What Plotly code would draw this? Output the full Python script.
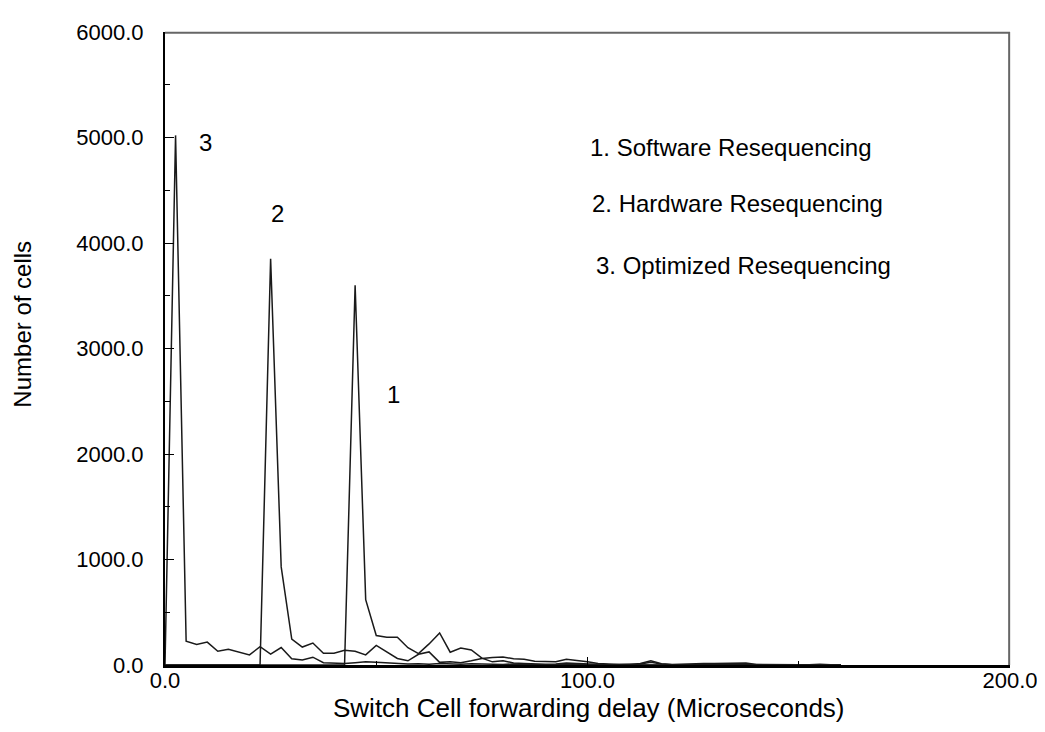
import plotly.graph_objects as go

# x grid (microseconds)
delay_us = [0, 2.5, 5, 7.5, 10, 12.5, 15, 17.5, 20, 22.5,
            25, 27.5, 30, 32.5, 35, 37.5, 40, 42.5, 45, 47.5,
            50, 52.5, 55, 57.5, 60, 62.5, 65, 67.5, 70, 72.5,
            75, 77.5, 80, 82.5, 85, 87.5, 90, 92.5, 95, 97.5,
            100, 102.5, 105, 107.5, 110, 112.5, 115, 117.5, 120, 122.5,
            125, 127.5, 130, 132.5, 135, 137.5, 140, 142.5, 145, 147.5,
            150, 152.5, 155, 157.5, 160]

software = [0, 0, 0, 0, 0, 0, 0, 0, 0, 0,
            0, 0, 0, 0, 0, 0, 0, 0, 3600, 620,
            279, 264, 264, 164, 108, 200, 304, 121, 161, 143,
            65, 30, 40, 20, 15, 10, 8, 10, 20, 15,
            10, 5, 3, 5, 8, 10, 25, 10, 3, 2,
            2, 3, 2, 2, 3, 5, 2, 1, 1, 1,
            1, 1, 2, 1, 0]

hardware = [0, 0, 0, 0, 0, 0, 0, 0, 0, 0,
            3850, 930, 245, 170, 208, 111, 111, 140, 130, 96,
            186, 124, 62, 40, 102, 124, 25, 30, 22, 40,
            62, 70, 75, 60, 55, 35, 35, 30, 55, 45,
            31, 15, 8, 5, 5, 15, 40, 12, 5, 10,
            15, 15, 15, 15, 15, 20, 5, 3, 2, 2,
            2, 3, 8, 2, 0]

optimized = [0, 5020, 226, 195, 217, 130, 149, 124, 96, 173,
             104, 166, 60, 47, 74, 22, 20, 15, 22, 30,
             26, 20, 15, 10, 12, 8, 15, 10, 8, 12,
             8, 5, 5, 10, 5, 3, 3, 5, 2, 3,
             2, 2, 1, 1, 2, 3, 2, 1, 1, 1,
             1, 1, 1, 1, 1, 2, 1, 0, 0, 0,
             0, 0, 1, 0, 0]

peak_labels = ["1", "2", "3"]
peak_label_x = [54, 26.7, 9.5]
peak_label_y = [2560, 4280, 4950]

legend_texts = ["1. Software Resequencing", "2. Hardware Resequencing", "3. Optimized Resequencing"]
legend_x = [100.0, 100.5, 101.6]
legend_y = [4910, 4370, 3790]

x_title = "Switch Cell forwarding delay (Microseconds)"
y_title = "Number of cells"

FONT = "Liberation Sans, Arial, Helvetica, sans-serif"
FS = 22
ANN_FS = 24

fig = go.Figure()
for ys, name in [(software, "Software"), (hardware, "Hardware"), (optimized, "Optimized")]:
    fig.add_trace(go.Scatter(x=delay_us, y=ys, mode="lines", name=name,
                             line=dict(color="#1a1a1a", width=1.5), showlegend=False))

for t, x, y in zip(peak_labels, peak_label_x, peak_label_y):
    fig.add_annotation(x=x, y=y, text=t, showarrow=False, xanchor="center", yanchor="middle",
                       font=dict(family=FONT, size=ANN_FS, color="black"))
for t, x, y in zip(legend_texts, legend_x, legend_y):
    fig.add_annotation(x=x, y=y, text=t, showarrow=False, xanchor="left", yanchor="middle",
                       font=dict(family=FONT, size=ANN_FS, color="black"))

# axis titles
fig.add_annotation(xref="paper", yref="paper", x=0.5018, y=-0.068, text=x_title,
                   showarrow=False, xanchor="center", yanchor="middle",
                   font=dict(family=FONT, size=26, color="black"))
fig.add_annotation(xref="paper", yref="paper", x=-0.169, y=0.538, text=y_title,
                   textangle=-90, showarrow=False, xanchor="center", yanchor="middle",
                   font=dict(family=FONT, size=24, color="black"))

# top and right border
fig.add_shape(type="line", xref="paper", yref="paper", x0=0, x1=1, y0=0.999, y1=0.999,
              line=dict(color="#666666", width=2), layer="above")
fig.add_shape(type="line", xref="paper", yref="paper", x0=0.999, x1=0.999, y0=0, y1=1,
              line=dict(color="#666666", width=2), layer="above")

fig.update_layout(
    width=1045, height=732,
    margin=dict(l=157, r=43, t=12, b=75),
    paper_bgcolor="white", plot_bgcolor="white",
    font=dict(family=FONT, size=FS, color="black"),
    xaxis=dict(range=[0, 200], dtick=100, tick0=0, tickformat=".1f",
               ticks="inside", ticklen=8, tickcolor="black", tickwidth=1,
               minor=dict(ticks="inside", dtick=50, ticklen=4, tickcolor="black"),
               showgrid=False, zeroline=False, showline=True, linecolor="black", linewidth=3,
               ticklabelstandoff=-6, ticklabeloverflow="allow"),
    yaxis=dict(range=[0, 6000], dtick=1000, tick0=0, tickformat=".1f",
               ticks="inside", ticklen=9, tickcolor="black", tickwidth=1,
               minor=dict(ticks="inside", dtick=500, ticklen=5, tickcolor="black"),
               showgrid=False, zeroline=False, showline=True, linecolor="black", linewidth=2,
               ticklabelstandoff=15, ticklabeloverflow="allow"),
)

fig.write_html("out.html")
